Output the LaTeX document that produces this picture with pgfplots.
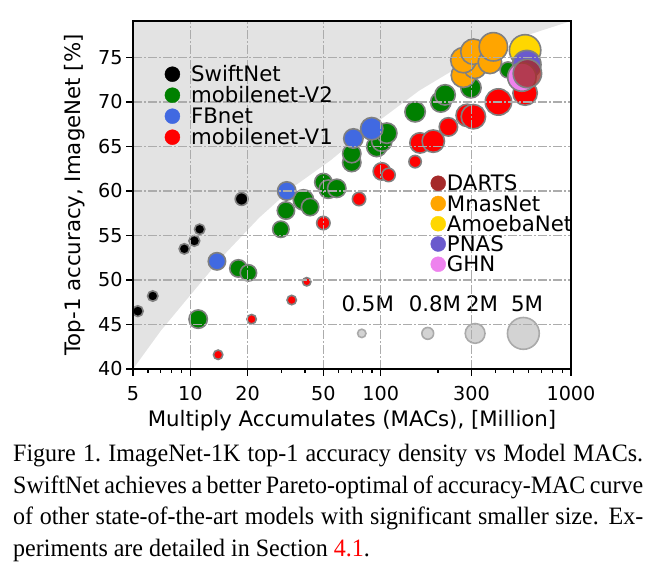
\documentclass[border=0pt]{standalone}
\usepackage{pgfplots}
\pgfplotsset{compat=1.18}
\usepackage{fontspec}
\setmainfont{DejaVu Sans}
\newfontfamily\capfont[FakeStretch=0.96]{Liberation Serif}
\definecolor{mgreen}{RGB}{0,128,0}
\definecolor{mblue}{RGB}{65,105,225}
\definecolor{mred}{RGB}{255,0,0}
\definecolor{darts}{RGB}{165,42,42}
\definecolor{mnas}{RGB}{255,165,0}
\definecolor{amoeba}{RGB}{255,215,0}
\definecolor{pnas}{RGB}{106,90,205}
\definecolor{ghn}{RGB}{238,130,238}
\definecolor{edgec}{RGB}{128,128,128}
\definecolor{szfill}{RGB}{211,211,211}
\definecolor{szedge}{RGB}{170,170,170}
\definecolor{shade}{RGB}{227,227,227}
\definecolor{gridc}{RGB}{172,172,172}
\newcommand{\lfont}{\fontsize{21.3bp}{25bp}\selectfont}
\newcommand{\tfont}{\fontsize{19.2bp}{22bp}\selectfont}
\pgfplotsset{
  bub/.style={scatter, only marks, mark=*, forget plot,
    scatter/use mapped color={draw=edgec, fill=#1},
    mark options={line width=1.6bp},
    visualization depends on={\thisrow{r}\as\rad},
    scatter/@pre marker code/.append style={/tikz/mark size=\rad bp}},
}
\begin{document}
\begin{tikzpicture}
\useasboundingbox (0,0) rectangle (657bp,568bp);
\begin{axis}[at={(133bp,199bp)}, anchor=south west, scale only axis,
  width=438bp, height=348bp, xmode=log, xmin=5, xmax=1000, ymin=40, ymax=79.1,
  axis on top, clip marker paths=true,
  grid=major,
  major grid style={draw=gridc, line width=1.4bp, dash pattern=on 8.5bp off 2.5bp on 1.5bp off 2.5bp},
  xtick={5,10,20,50,100,300,1000}, xticklabels={5,10,20,50,100,300,1000},
  minor xtick={6,7,8,9,30,40,60,70,80,90,200,400,500,600,700,800,900},
  ytick={40,45,50,55,60,65,70,75}, yticklabels={40,45,50,55,60,65,70,75},
  tick align=outside, tick pos=left,
  major tick length=7bp, minor tick length=4bp,
  every tick/.style={black, line width=1.2bp},
  ticklabel style={font=\tfont},
  xticklabel style={yshift=-7bp},
  axis line style={black, line width=1.3bp},
  legend image code/.code={\fill[#1] (0bp,0bp) circle (7.5bp);},
  legend cell align=left,
  legend style={at={(0.0719,0.870)}, anchor=north west, draw=none, fill=none,
    inner sep=0pt, row sep=5.5bp, font=\lfont,
    nodes={inner sep=0pt, text height=15.5bp, text depth=0bp},
    /tikz/every odd column/.append style={column sep=11bp}},
]
\addplot[fill=shade, draw=none, forget plot] coordinates {
 (5,40) (7,44.3) (10,48.3) (15,52.8) (23,57.0) (35,60.5) (55,63.5) (90,67.3)
 (160,71.3) (300,74.8) (550,77.3) (1000,79.1) (5,79.1)} -- cycle;
% SwiftNet
\addplot[bub=black] table[row sep=\\]{x y r\\
5.3 46.5 5.4\\ 6.35 48.2 5.2\\ 9.3 53.5 5.2\\ 10.5 54.4 5.4\\ 11.2 55.7 5.2\\ 18.6 59.1 6.4\\};
% mobilenet-V2
\addplot[bub=mgreen] table[row sep=\\]{x y r\\
11.0 45.6 9.2\\ 17.9 51.3 8.7\\ 20.2 50.8 8.2\\ 29.9 55.7 8.2\\ 31.8 57.8 8.7\\
39.3 59.0 10.2\\ 42.6 58.2 8.7\\ 50 61.0 8.7\\ 53.1 60.2 9.2\\ 58.8 60.3 9.2\\
70.5 63.2 9.2\\ 70.5 64.2 9.2\\ 95.4 65.0 10.2\\ 101.4 65.6 10.2\\ 107.7 66.5 10.2\\
151.7 68.9 10.2\\ 207 70.0 10.2\\ 218 70.8 10.2\\ 298 71.6 10.2\\ 467 73.6 8\\};
% FBnet
\addplot[bub=mblue] table[row sep=\\]{x y r\\
13.8 52.1 8.7\\ 32.1 60.0 9.2\\ 71.9 65.9 9.7\\ 89.8 67.0 11.2\\};
% mobilenet-V1
\addplot[bub=mred] table[row sep=\\]{x y r\\
14.0 41.6 4.7\\ 21.0 45.6 4.7\\ 34.1 47.75 4.7\\ 40.9 49.8 4.2\\ 50 56.4 6.7\\
77 59.1 6.7\\ 101.4 62.2 8.7\\ 110 61.8 6.7\\ 151.7 63.3 6.2\\ 161 65.4 10.2\\
189 65.6 11.2\\ 227 67.2 9.2\\ 285 68.5 11.2\\ 307 68.35 12.2\\ 415.6 70.0 13.2\\
574 71.0 12.2\\};
% MnasNet
\addplot[bub=mnas] table[row sep=\\]{x y r\\
272 73.0 12.2\\ 313 73.9 11.2\\ 272 74.7 12.7\\ 307 75.65 12.7\\ 375 74.5 11.7\\ 391 76.2 14.2\\};
% AmoebaNet
\addplot[bub=amoeba] table[row sep=\\]{x y r\\ 574 75.8 15.7\\};
% PNAS
\addplot[bub=pnas] table[row sep=\\]{x y r\\ 586 74.2 14.2\\};
% GHN
\addplot[bub=ghn] table[row sep=\\]{x y r\\ 552 72.8 14.2\\};
% DARTS
\addplot[bub=darts, mark options={line width=1.6bp, fill opacity=0.8}] table[row sep=\\]{x y r\\ 590 73.2 14.2\\};
% size legend
\addplot[scatter, only marks, mark=*, forget plot,
    scatter/use mapped color={draw=szedge, fill=szfill},
    mark options={line width=1.6bp},
    visualization depends on={\thisrow{r}\as\rad},
    scatter/@pre marker code/.append style={/tikz/mark size=\rad bp}]
  table[row sep=\\]{x y r\\ 79.6 44.0 4.2\\ 176.8 44.0 5.9\\ 313.5 44.0 9.9\\ 562 44.0 15.9\\};
\node[font=\lfont, anchor=base] at (axis cs:85.6,46.5) {0.5M};
\node[font=\lfont, anchor=base] at (axis cs:193,46.5) {0.8M};
\node[font=\lfont, anchor=base] at (axis cs:341,46.5) {2M};
\node[font=\lfont, anchor=base] at (axis cs:588,46.5) {5M};
\addlegendimage{black}\addlegendentry{SwiftNet}
\addlegendimage{mgreen}\addlegendentry{mobilenet-V2}
\addlegendimage{mblue}\addlegendentry{FBnet}
\addlegendimage{mred}\addlegendentry{mobilenet-V1}
\end{axis}
\begin{axis}[at={(133bp,199bp)}, anchor=south west, scale only axis,
  width=438bp, height=348bp, xmin=0, xmax=1, ymin=0, ymax=1, hide axis,
  legend image code/.code={\fill[#1] (0bp,0bp) circle (7.5bp);},
  legend cell align=left,
  legend style={at={(0.6788,0.5566)}, anchor=north west, draw=none, fill=none,
    inner sep=0pt, row sep=4.75bp, font=\lfont,
    nodes={inner sep=0pt, text height=15.5bp, text depth=0bp},
    /tikz/every odd column/.append style={column sep=1bp}},
]
\addplot[draw=none, forget plot] coordinates {(0.5,0.5)};
\addlegendimage{darts}\addlegendentry{DARTS}
\addlegendimage{mnas}\addlegendentry{MnasNet}
\addlegendimage{amoeba}\addlegendentry{AmoebaNet}
\addlegendimage{pnas}\addlegendentry{PNAS}
\addlegendimage{ghn}\addlegendentry{GHN}
\end{axis}
\node[font=\lfont, anchor=base] at (352bp,141bp) {Multiply Accumulates (MACs), [Million]};
\node[font=\lfont, anchor=base, rotate=90] at (80bp,373bp) {Top-1 accuracy, ImageNet [\%]};
\node[anchor=base west, inner sep=0pt, text width=630bp, align=justify,
  font=\capfont\fontsize{25bp}{31.5bp}\selectfont] at (13bp,106bp)
  {\hyphenpenalty=10000 \exhyphenpenalty=10000
  Figure 1.\ ImageNet-1K top-1 accuracy density vs Model MACs.\linebreak
  SwiftNet achieves a better Pareto-optimal of accuracy-MAC curve\linebreak
  of other state-of-the-art models with significant smaller size. Ex-\linebreak
  periments are detailed in Section \textcolor{red}{4.1}.};
\end{tikzpicture}
\end{document}
